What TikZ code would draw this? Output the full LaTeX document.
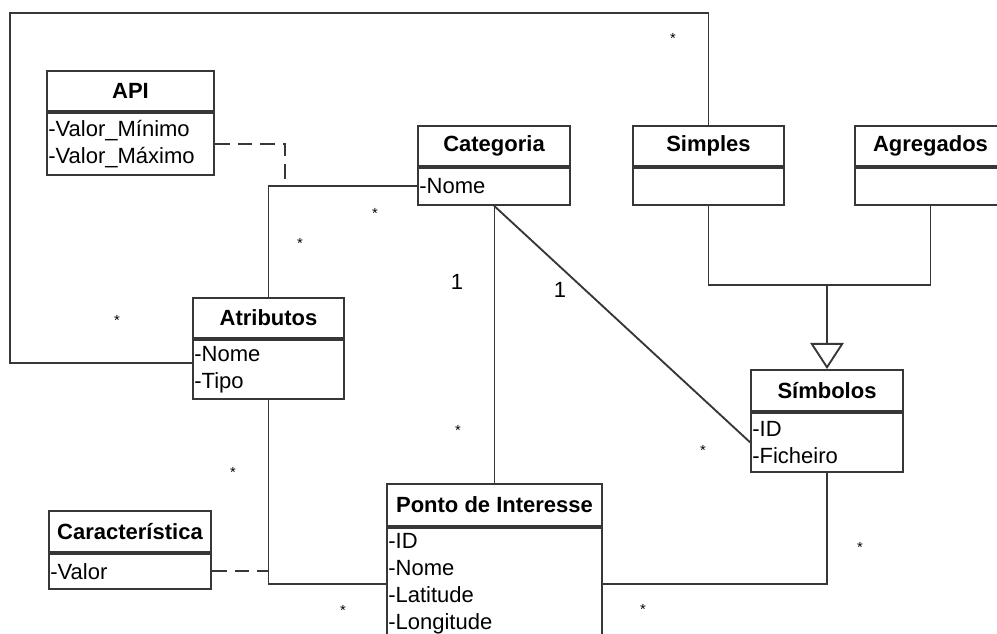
\documentclass[tikz,border=0pt]{standalone}
\usepackage{fontspec}
\setmainfont{Liberation Sans}
\usetikzlibrary{positioning,arrows.meta}
\definecolor{linegray}{RGB}{55,55,55}

\tikzset{
  classhead/.style={draw=linegray, line width=1.4pt, fill=white, inner sep=0pt, anchor=north, minimum height=30pt, font=\fontsize{16.5}{20}\selectfont\bfseries},
  classbody/.style={draw=linegray, line width=1.4pt, fill=white, inner xsep=1pt, inner ysep=0pt, align=left, font=\fontsize{16.5}{20.25}\selectfont},
  assoc/.style={draw=linegray, line width=1.4pt},
  depend/.style={assoc, dash pattern=on 11pt off 6pt},
  general/.style={assoc, -{Triangle[open, length=19.5pt, width=25pt, fill=white]}},
  mult/.style={inner sep=0pt, font=\fontsize{16.5}{20}\selectfont},
  star/.style={inner sep=0pt, font=\fontsize{11}{11}\selectfont},
}

\begin{document}
\begin{tikzpicture}[x=0.75pt,y=0.75pt,yscale=-1,xscale=1]
\useasboundingbox (0,0) rectangle (997,634);

%Class: API
\node[classhead, minimum width=125.25pt] (api) at (130.5,70) {API};
\node[classbody, below=0pt of api, text width=123.25pt, minimum height=46.5pt] (api-b) {-Valor\_Mínimo\\-Valor\_Máximo};
%Class: Categoria
\node[classhead, minimum width=114pt] (cat) at (494,125) {Categoria};
\node[classbody, below=0pt of cat, text width=112pt, minimum height=27.75pt] (cat-b) {-Nome};
%Class: Simples
\node[classhead, minimum width=113.25pt] (simp) at (708.5,125) {Simples};
\node[classbody, below=0pt of simp, text width=111.25pt, minimum height=27.75pt] (simp-b) {};
%Class: Agregados
\node[classhead, minimum width=113.25pt] (agr) at (930.5,125) {Agregados};
\node[classbody, below=0pt of agr, text width=111.25pt, minimum height=27.75pt] (agr-b) {};
%Class: Atributos
\node[classhead, minimum width=113.25pt] (atr) at (268.5,297) {Atributos};
\node[classbody, below=0pt of atr, text width=111.25pt, minimum height=44.25pt] (atr-b) {-Nome\\-Tipo};
%Class: Simbolos
\node[classhead, minimum width=114pt, minimum height=30.75pt] (sim) at (827,369) {Símbolos};
\node[classbody, below=0pt of sim, text width=112pt, minimum height=44.25pt] (sim-b) {-ID\\-Ficheiro};
%Class: Ponto de Interesse
\node[classhead, minimum width=161.25pt, minimum height=31.5pt] (pdi) at (494.5,483) {Ponto de Interesse};
\node[classbody, below=0pt of pdi, text width=159.25pt, minimum height=84pt] (pdi-b) {-ID\\-Nome\\-Latitude\\-Longitude};
%Class: Caracteristica
\node[classhead, minimum width=121.5pt, minimum height=30.75pt] (car) at (130,510) {Característica};
\node[classbody, below=0pt of car, text width=119.5pt, minimum height=26.25pt] (car-b) {-Valor};

%Corners of the long association
\coordinate (c1) at (10,13);
\coordinate (c2) at (10,363);
\coordinate (dj) at (285,182);
\coordinate (gen) at (827,285);

%Straight Lines: Atributos -- Simples
\draw[assoc] (atr-b.west |- c2) -- (c2) -- (c1) -- (simp.north |- c1) -- (simp.north);
%Straight Lines: Categoria -- Atributos
\draw[assoc] (cat-b.west) -- (cat-b.west -| atr.north) -- (atr.north);
%Dashed Lines: API
\draw[depend] (api-b.east) -- (api-b.east -| dj) -- (dj);
%Straight Lines: Categoria -- Ponto de Interesse
\draw[assoc] (cat-b.south -| pdi.north) -- (pdi.north);
%Straight Lines: Categoria -- Simbolos
\draw[assoc] (cat-b.south) -- (sim-b.west);
%Generalization
\draw[assoc] (simp-b.south) -- (simp-b.south |- gen) -- (agr-b.south |- gen) -- (agr-b.south);
\draw[general] (gen) -- (sim.north);
%Straight Lines: Atributos -- Ponto de Interesse
\draw[assoc] (atr-b.south) -- (atr-b.south |- pdi-b.west) -- (pdi-b.west);
%Dashed Lines: Caracteristica
\draw[depend] (car-b.east) -- (car-b.east -| atr-b.south);
%Straight Lines: Simbolos -- Ponto de Interesse
\draw[assoc] (sim-b.south) -- (sim-b.south |- pdi-b.east) -- (pdi-b.east);

%Multiplicities
\node[star] (m1) at (673,38) {*};
\node[star] (m2) at (375,213) {*};
\node[star] (m3) at (300,243) {*};
\node[mult] (m4) at (457,282) {1};
\node[mult] (m5) at (560,290) {1};
\node[star] (m6) at (117,320) {*};
\node[star] (m7) at (458,430) {*};
\node[star] (m8) at (703,450) {*};
\node[star] (m9) at (233,472) {*};
\node[star] (m10) at (860,547) {*};
\node[star] (m11) at (343,610) {*};
\node[star] (m12) at (643,609) {*};

\end{tikzpicture}
\end{document}
